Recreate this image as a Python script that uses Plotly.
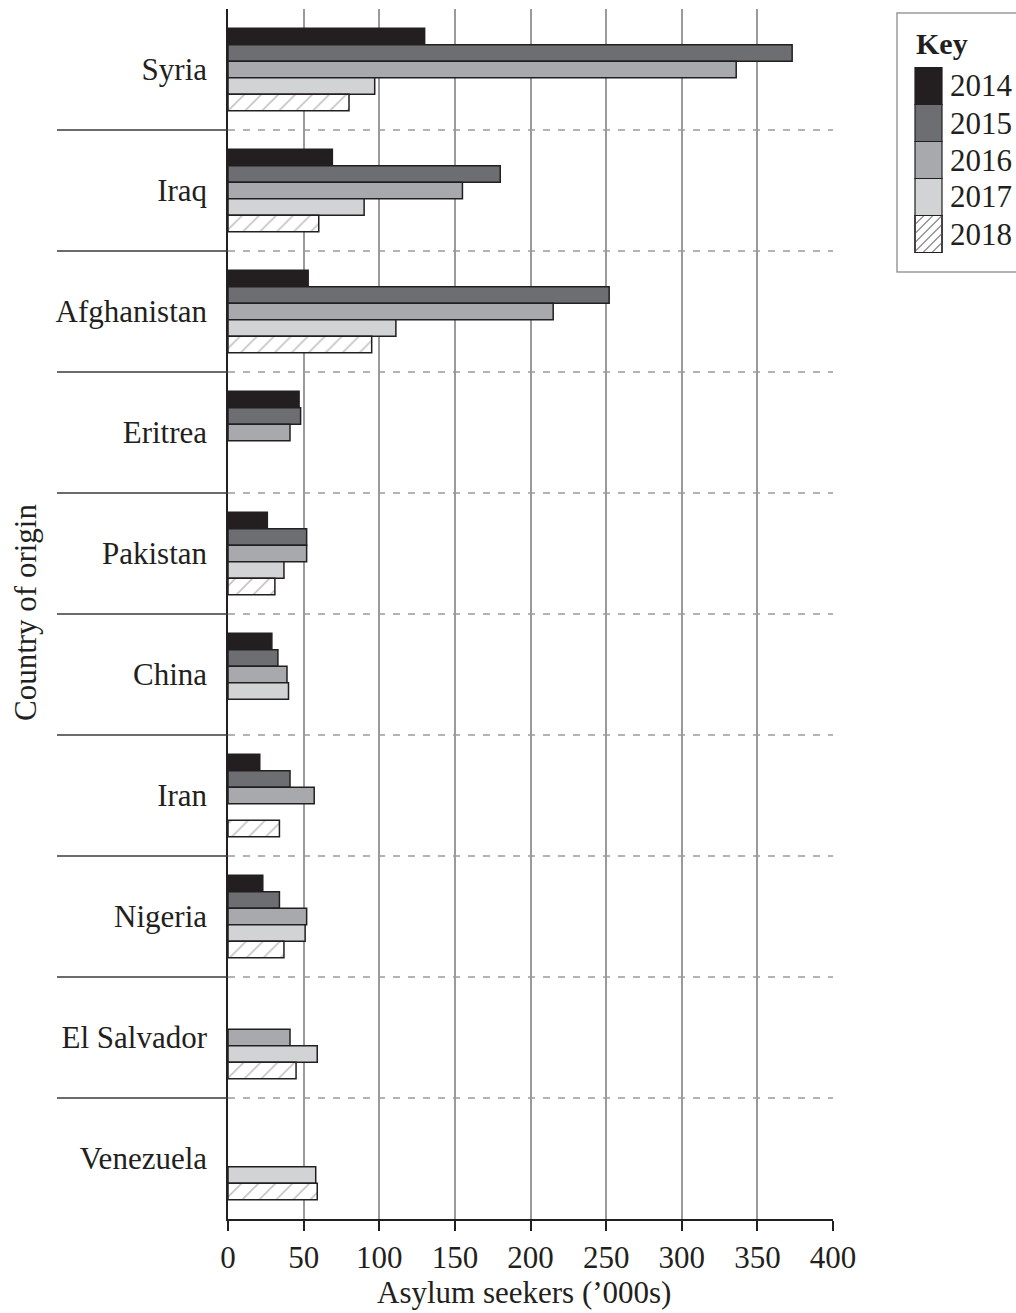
import plotly.graph_objects as go

countries = ["Syria", "Iraq", "Afghanistan", "Eritrea", "Pakistan", "China",
             "Iran", "Nigeria", "El Salvador", "Venezuela"]
years = ["2014", "2015", "2016", "2017", "2018"]

v2014 = [130, 69, 53, 47, 26, 29, 21, 23, None, None]
v2015 = [373, 180, 252, 48, 52, 33, 41, 34, None, None]
v2016 = [336, 155, 215, 41, 52, 39, 57, 52, 41, None]
v2017 = [97, 90, 111, None, 37, 40, None, 51, 59, 58]
v2018 = [80, 60, 95, None, 31, None, 34, 37, 45, 59]
series = [v2014, v2015, v2016, v2017, v2018]

x_ticks = [0, 50, 100, 150, 200, 250, 300, 350, 400]

colors = ["#231f20", "#6d6e71", "#a7a9ac", "#d1d3d4", "#ffffff"]
edge = "#231f20"
hatch = "#8c8c8c"
FONT = "Liberation Serif"
FS = 31

W, H = 1016, 1313
L, R, T, B = 228, 833, 9, 1219  # plot area in px


def px2paper(px, py):
    return (px - L) / (R - L), (B - py) / (B - T)


fig = go.Figure()
for i, (yr, vals) in enumerate(zip(years, series)):
    marker = dict(color=colors[i], line=dict(color=edge, width=1.5))
    if i == 4:
        marker["pattern"] = dict(shape="/", fgcolor=hatch, bgcolor="#ffffff",
                                 size=12, solidity=0.14)
    fig.add_trace(go.Bar(y=countries, x=vals, orientation="h", name=yr,
                         marker=marker, showlegend=False))

shapes = []
n = len(countries)
for k in range(n - 1):
    yb = k + 0.5
    shapes.append(dict(type="line", xref="paper", yref="y",
                       x0=(57 - L) / (R - L), x1=0, y0=yb, y1=yb,
                       line=dict(color="#3a3a3a", width=1.5)))
    shapes.append(dict(type="line", xref="x", yref="y",
                       x0=0, x1=x_ticks[-1], y0=yb, y1=yb,
                       line=dict(color="#9a9a9a", width=1.5, dash="7px,8px")))

# custom key box
bx0, by0 = px2paper(897, 13)
bx1, by1 = px2paper(1030, 272)
shapes.append(dict(type="rect", xref="paper", yref="paper",
                   x0=bx0, x1=bx1, y0=by1, y1=by0,
                   line=dict(color="#9a9a9a", width=1.5), fillcolor="white",
                   layer="above"))
annotations = []
ax, ay = px2paper(914, 43)
annotations.append(dict(text="<b>Key</b>", xref="paper", yref="paper", x=ax, y=ay,
                        xanchor="left", yanchor="middle", showarrow=False,
                        font=dict(family=FONT, size=FS - 1, color="#231f20")))
sx0, sx1 = 915, 942
top = 67.5
sh = 37
for i, yr in enumerate(years):
    y0 = top + i * sh
    y1 = y0 + sh
    px0, py0 = px2paper(sx0, y0)
    px1, py1 = px2paper(sx1, y1)
    shapes.append(dict(type="rect", xref="paper", yref="paper",
                       x0=px0, x1=px1, y0=py1, y1=py0,
                       line=dict(color=edge, width=1.2), fillcolor=colors[i],
                       layer="above"))
    if i == 4:
        segs = []
        s = 9
        c = sx0 + y0
        while c < sx1 + y1 + s:
            a = max(sx0, c - y1)
            b = min(sx1, c - y0)
            if b - a > 0.5:
                p0 = px2paper(a, c - a)
                p1 = px2paper(b, c - b)
                segs.append(f"M{p0[0]},{p0[1]} L{p1[0]},{p1[1]}")
            c += s
        shapes.append(dict(type="path", xref="paper", yref="paper",
                           path=" ".join(segs),
                           line=dict(color=hatch, width=1.2), layer="above"))
        shapes.append(dict(type="rect", xref="paper", yref="paper",
                           x0=px0, x1=px1, y0=py1, y1=py0,
                           line=dict(color=edge, width=1.2), layer="above"))
    tx, ty = px2paper(948, (y0 + y1) / 2)
    annotations.append(dict(text=yr, xref="paper", yref="paper", x=tx, y=ty,
                            xanchor="left", yanchor="middle", showarrow=False,
                            font=dict(family=FONT, size=FS, color="#231f20")))

cx, cy = px2paper(25, 612)
annotations.append(dict(text="Country of origin", xref="paper", yref="paper",
                        x=cx, y=cy, textangle=-90, showarrow=False,
                        xanchor="center", yanchor="middle",
                        font=dict(family=FONT, size=FS, color="#231f20")))
tx, ty = px2paper(524, 1292)
annotations.append(dict(text="Asylum seekers (’000s)", xref="paper", yref="paper",
                        x=tx, y=ty, showarrow=False,
                        xanchor="center", yanchor="middle",
                        font=dict(family=FONT, size=FS, color="#231f20")))

fig.update_layout(
    width=W, height=H,
    margin=dict(l=L, r=W - R, t=T, b=H - B, pad=0),
    paper_bgcolor="white", plot_bgcolor="white",
    barmode="group", bargap=0.32, bargroupgap=0,
    font=dict(family=FONT, size=FS, color="#231f20"),
    shapes=shapes, annotations=annotations,
    xaxis=dict(range=[0, 400], tickvals=x_ticks, ticktext=[str(t) for t in x_ticks],
               showgrid=True, gridcolor="#9a9a9a", gridwidth=1.5,
               showline=True, linecolor=edge, linewidth=1.5,
               ticks="outside", ticklen=10, tickcolor=edge, tickwidth=1.5,
               zeroline=False,
               tickfont=dict(family=FONT, size=FS)),
    yaxis=dict(categoryorder="array", categoryarray=countries,
               range=[n - 0.5, -0.5], showgrid=False,
               showline=True, linecolor=edge, linewidth=1.5,
               ticks="", ticklabelstandoff=13,
               tickfont=dict(family=FONT, size=FS)),
)

fig.write_html("out.html", config={"displayModeBar": False},
               post_script="document.body.style.margin='0';document.body.style.overflow='hidden';")
